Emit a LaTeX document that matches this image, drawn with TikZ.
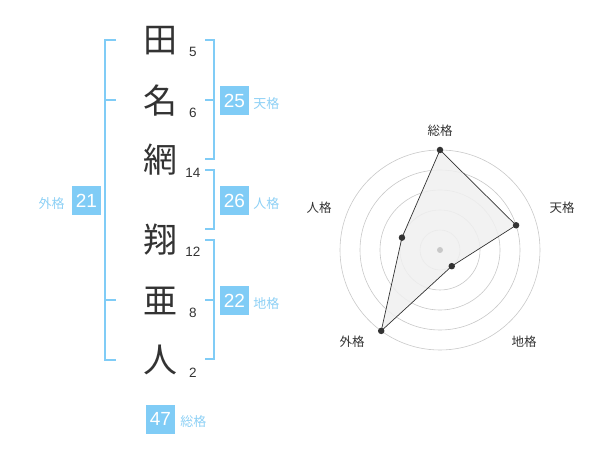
\documentclass[tikz,border=0pt]{standalone}
\usepackage{fontspec}
\setmainfont{Liberation Sans}
\newfontfamily\jpfont{Noto Sans CJK JP}
\usetikzlibrary{positioning}
\definecolor{ink}{HTML}{333333}
\definecolor{sky}{HTML}{80CCF6}
\definecolor{skytext}{HTML}{8DD0F5}
\definecolor{ring}{HTML}{C8C8C8}
\definecolor{radarfill}{HTML}{F0F0F0}

\begin{document}
\begin{tikzpicture}[x=1pt, y=-1pt]
		\tikzstyle{Char} = [inner sep=0, text=ink, font=\jpfont\fontsize{34}{34}\selectfont]
		\tikzstyle{Stroke} = [inner sep=0, text=ink, font=\fontsize{13.5}{14}\selectfont]
		\tikzstyle{Box} = [rectangle, inner sep=0, minimum size=29pt, fill=sky, text=white, font=\fontsize{19}{19}\selectfont]
		\tikzstyle{Kaku} = [inner sep=0, text=skytext, font=\jpfont\fontsize{13}{13}\selectfont]
		\tikzstyle{Axis} = [inner sep=0, text=ink, font=\jpfont\fontsize{12.5}{13}\selectfont]
		\tikzstyle{bracket} = [line width=2pt, sky]
		\tikzstyle{Dot} = [circle, inner sep=0, minimum size=6.5pt, fill=ink]
		
		\useasboundingbox (0,0) rectangle (600,470);
		
		% name
		\node (c1) [Char] at (160,41) {田};
		\node (c2) [Char] at (160,101) {名};
		\node (c3) [Char] at (160,160) {網};
		\node (c4) [Char] at (160,240) {翔};
		\node (c5) [Char] at (160,301) {亜};
		\node (c6) [Char] at (160,360) {人};
		
		\node (s1) [Stroke] at (193,52) {5};
		\node (s2) [Stroke] at (193,113) {6};
		\node (s3) [Stroke] at (193,173) {14};
		\node (s4) [Stroke] at (193,252) {12};
		\node (s5) [Stroke] at (193,313) {8};
		\node (s6) [Stroke] at (193,373) {2};
		
		% brackets
		\draw [bracket] (116,40) -- (105,40) -- (105,360) -- (116,360);
		\draw [bracket] (105,100) -- (116,100);
		\draw [bracket] (105,300) -- (116,300);
		
		\draw [bracket] (205,40) -- (214,40) -- (214,159) -- (205,159);
		\draw [bracket] (214,100) -- (205,100);
		\draw [bracket] (205,170) -- (214,170) -- (214,229) -- (205,229);
		\draw [bracket] (205,240) -- (214,240) -- (214,359) -- (205,359);
		\draw [bracket] (214,300) -- (205,300);
		
		\node (ten) [Box] at (234.5,100.5) {25};
		\node (tenl) [Kaku, right=4pt of ten, yshift=-3pt] {天格};
		\node (jin) [Box] at (234.5,200.5) {26};
		\node (jinl) [Kaku, right=4pt of jin, yshift=-3pt] {人格};
		\node (chi) [Box] at (234.5,300.5) {22};
		\node (chil) [Kaku, right=4pt of chi, yshift=-3pt] {地格};
		\node (gai) [Box] at (86.5,200.5) {21};
		\node (gail) [Kaku, left=7pt of gai, yshift=-3pt] {外格};
		\node (sou) [Box] at (160.5,419) {47};
		\node (soul) [Kaku, right=5pt of sou, yshift=-3pt] {総格};
		
		% radar
		\coordinate (ctr) at (440,250);
		\draw [ring, line width=0.6pt] (ctr) circle (20);
		\draw [ring, line width=0.6pt] (ctr) circle (40);
		\draw [ring, line width=0.6pt] (ctr) circle (60);
		\draw [ring, line width=0.6pt] (ctr) circle (80);
		\draw [ring, line width=0.6pt] (ctr) circle (100);
		
		\coordinate (p1) at ([shift={(-90:100)}]ctr);
		\coordinate (p2) at ([shift={(-18:80)}]ctr);
		\coordinate (p3) at ([shift={(54:20)}]ctr);
		\coordinate (p4) at ([shift={(126:100)}]ctr);
		\coordinate (p5) at ([shift={(198:40)}]ctr);
		
		\draw [fill=radarfill, fill opacity=0.85, draw=ink, line width=0.7pt] (p1) -- (p2) -- (p3) -- (p4) -- (p5) -- cycle;
		\node [circle, inner sep=0, minimum size=6pt, fill=ring] at (ctr) {};
		\node (d1) [Dot] at (p1) {};
		\node (d2) [Dot] at (p2) {};
		\node (d3) [Dot] at (p3) {};
		\node (d4) [Dot] at (p4) {};
		\node (d5) [Dot] at (p5) {};
		
		\node (a1) [Axis] at (440,131) {総格};
		\node (a2) [Axis] at (562,208) {天格};
		\node (a3) [Axis] at (524,342) {地格};
		\node (a4) [Axis] at (352,342) {外格};
		\node (a5) [Axis] at (319,208) {人格};
\end{tikzpicture}
\end{document}
